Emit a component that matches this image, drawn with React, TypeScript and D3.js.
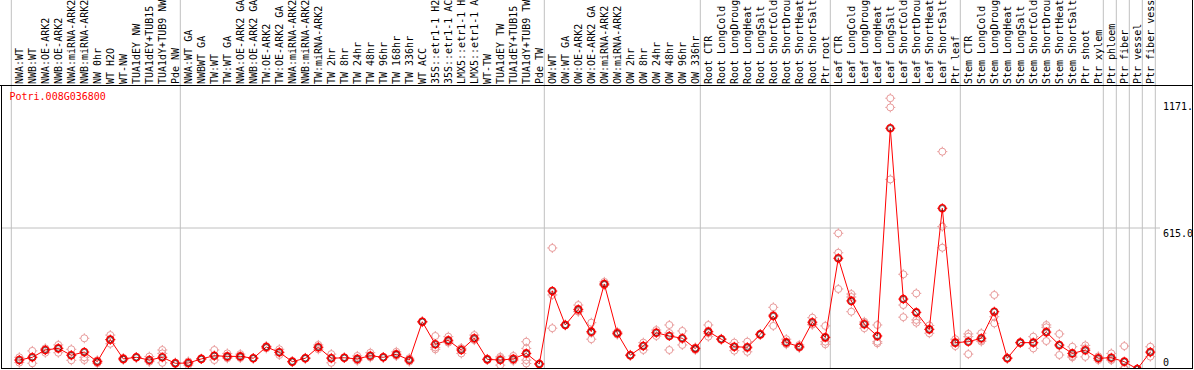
import React from 'react';
import * as d3 from 'd3';

const geneId = 'Potri.008G036800';

const samples = [
  'NWA:WT', 'NWB:WT', 'NWA:OE-ARK2', 'NWB:OE-ARK2', 'NWA:miRNA-ARK2', 'NWB:miRNA-ARK2', 'NW 0hr', 'WT H2O', 'WT-NW',
  'TUA1dEY NW', 'TUA1dEY+TUB15 NW', 'TUA1dY+TUB9 NW', 'Pde NW',
  'NWA:WT GA', 'NWBWT GA', 'TW:WT', 'TW:WT GA', 'NWA:OE-ARK2 GA', 'NWB:OE-ARK2 GA', 'TW:OE-ARK2', 'TW:OE-ARK2 GA',
  'NWA:miRNA-ARK2', 'NWB:miRNA-ARK2', 'TW:miRNA-ARK2', 'TW 2hr', 'TW 8hr', 'TW 24hr', 'TW 48hr', 'TW 96hr', 'TW 168hr',
  'TW 336hr', 'WT ACC', '35S::etr1-1 H2O', '35S::etr1-1 ACC', 'LMX5::etr1-1 H2O', 'LMX5::etr1-1 ACC', 'WT-TW',
  'TUA1dEY TW', 'TUA1dEY+TUB15 TW', 'TUA1dY+TUB9 TW', 'Pde TW',
  'OW:WT', 'OW:WT GA', 'OW:OE-ARK2', 'OW:OE-ARK2 GA', 'OW:miRNA-ARK2', 'OW:miRNA-ARK2 GA', 'OW 2hr', 'OW 8hr',
  'OW 24hr', 'OW 48hr', 'OW 96hr', 'OW 336hr',
  'Root CTR', 'Root LongCold', 'Root LongDrought', 'Root LongHeat', 'Root LongSalt', 'Root ShortCold',
  'Root ShortDrought', 'Root ShortHeat', 'Root ShortSalt', 'Ptr root',
  'Leaf CTR', 'Leaf LongCold', 'Leaf LongDrought', 'Leaf LongHeat', 'Leaf LongSalt', 'Leaf ShortCold',
  'Leaf ShortDrought', 'Leaf ShortHeat', 'Leaf ShortSalt', 'Ptr leaf',
  'Stem CTR', 'Stem LongCold', 'Stem LongDrought', 'Stem LongHeat', 'Stem LongSalt', 'Stem ShortCold',
  'Stem ShortDrought', 'Stem ShortHeat', 'Stem ShortSalt', 'Ptr shoot', 'Ptr xylem',
  'Ptr phloem', 'Ptr fiber', 'Ptr vessel', 'Ptr fiber vessel',
];

const groupStarts = [0, 13, 41, 53, 63, 73, 84, 85, 86, 87, 88];

const means = [
  39, 51, 83, 90, 60, 74, 32, 128, 44, 51, 39, 51, 25,
  26, 44, 58, 55, 55, 47, 96, 73, 32, 47, 95, 47, 49, 44, 58, 51, 64, 39, 206, 108, 125, 83, 134, 42, 39, 44, 68, 22,
  340, 192, 260, 163, 371, 156, 60, 100, 158, 144, 134, 89,
  163, 130, 97, 95, 151, 231, 116, 97, 204, 138,
  483, 297, 195, 144, 1050, 305, 247, 173, 701, 115,
  119, 134, 250, 47, 115, 115, 161, 105, 68, 82, 47,
  49, 32, 0, 74,
];

const replicates = [
  [51, 28, 39], [79, 25, 51], [90, 71, 83], [105, 71, 90], [86, 38, 60], [134, 39, 51], [32, 25, 38], [148, 128, 110],
  [44, 40, 48], [51, 50, 52], [54, 32, 32], [83, 68, 27], [25, 22, 28],
  [17, 28, 33], [44, 44, 44], [83, 39, 57], [68, 47, 50], [65, 48, 52], [47, 47, 47], [100, 90, 98], [86, 61, 72],
  [32, 30, 34], [47, 45, 49], [105, 86, 94], [65, 27, 49], [49, 48, 50], [57, 39, 36], [71, 51, 52], [51, 50, 52],
  [75, 57, 60], [47, 32, 38], [206, 204, 208], [144, 86, 94], [141, 119, 115], [90, 68, 91], [148, 126, 128],
  [42, 40, 44], [47, 17, 53], [57, 39, 36], [119, 90, 39, 24], [22, 20, 24],
  [323, 178, 528], [192, 190, 194], [279, 250, 252], [202, 130, 158], [380, 365, 368], [156, 150, 162],
  [60, 58, 62], [115, 83, 102], [170, 144, 160], [192, 83, 157], [166, 105, 131], [90, 83, 94],
  [192, 156, 141], [130, 128, 132], [115, 80, 96], [119, 75, 91], [151, 149, 153], [269, 188, 236],
  [130, 108, 110], [105, 93, 93], [224, 195, 193], [188, 119, 108],
  [592, 507, 349], [327, 250, 314], [206, 178, 201], [192, 119, 112], [1181, 1141, 827], [413, 279, 226],
  [330, 214, 202], [190, 156, 173], [948, 621, 529], [100, 115, 130],
  [153, 141, 65], [156, 126, 120], [323, 199, 228], [47, 45, 49], [115, 113, 117], [141, 90, 114],
  [192, 182, 122], [153, 61, 101], [97, 51, 56], [103, 90, 53], [39, 47, 55],
  [68, 39, 40], [100, 4, 0], [0, 0, 0], [97, 54, 71],
];

const yTicks = [0, 615, 1171];
const yTickLabels = ['0', '615.0', '1171.0'];

const W = 1194;
const H = 370;
const FONT = '"DejaVu Sans Mono", monospace';

function Marker({ cx, cy, color, sw }: { cx: number; cy: number; color: string; sw: number }) {
  const d = `M${cx - 5},${cy}h1.6M${cx + 3.4},${cy}h1.6M${cx},${cy - 5}v1.6M${cx},${cy + 3.4}v1.6`;
  return (
    <g>
      <circle cx={cx} cy={cy} r={3.5} fill="none" stroke={color} strokeWidth={sw} />
      <path d={d} stroke={color} strokeWidth={1} />
    </g>
  );
}

export default function App() {
  const x = d3.scaleLinear().domain([0, samples.length - 1]).range([19.3, 19.3 + 13 * (samples.length - 1)]);
  const y = d3.scaleLinear().domain([0, 615]).range([369, 228]);
  const line = d3
    .line<number>()
    .x((_, i) => x(i))
    .y((d) => y(d));

  const boundaries = groupStarts.map((g) => x(g) - 8);

  return (
    <svg
      width={W}
      height={H}
      style={{ position: 'absolute', left: 0, top: 0, display: 'block', background: '#fff' }}
    >
      <defs>
        <clipPath id="plotClip">
          <rect x={1} y={86} width={1191} height={283} />
        </clipPath>
      </defs>
      <rect x={0} y={0} width={W} height={H} fill="#fff" />
      {boundaries.map((bx, i) => (
        <line key={'b' + i} x1={bx} x2={bx} y1={0} y2={368} stroke="#c0c0c0" strokeWidth={1} />
      ))}
      <line x1={1} x2={1160} y1={y(615)} y2={y(615)} stroke="#c0c0c0" strokeWidth={1} />
      {samples.map((s, i) => (
        <text
          key={'l' + i}
          transform={`translate(${x(i) + 4},84) rotate(-90)`}
          fontFamily={FONT}
          fontSize={10}
          fill="#000"
        >
          {s}
        </text>
      ))}
      <g clipPath="url(#plotClip)">
        {yTicks.map((t, i) => (
          <text
            key={'yt' + i}
            x={1163}
            y={Math.min(y(t) + 9, 366)}
            fontFamily={FONT}
            fontSize={10}
            fill="#000"
          >
            {yTickLabels[i]}
          </text>
        ))}
        <text x={9.5} y={100} fontFamily={FONT} fontSize={10} fill="#ff0000">
          {geneId}
        </text>
        {replicates.map((reps, i) =>
          reps.map((r, j) => <Marker key={'r' + i + '_' + j} cx={x(i)} cy={y(r)} color="#e89a9a" sw={1} />)
        )}
        <path d={line(means) || ''} fill="none" stroke="#ff0000" strokeWidth={1} />
        {means.map((m, i) => (
          <g key={'m' + i}>
            <Marker cx={x(i)} cy={y(m)} color="#ff0000" sw={1.6} />
            <circle cx={x(i)} cy={y(m)} r={2.6} fill="none" stroke="#000" strokeWidth={0.5} />
          </g>
        ))}
      </g>
      <line x1={0} x2={1193} y1={85.5} y2={85.5} stroke="#000" strokeWidth={1} />
      <line x1={1.5} x2={1.5} y1={85} y2={369} stroke="#000" strokeWidth={1} />
      <line x1={1192.5} x2={1192.5} y1={0} y2={369} stroke="#000" strokeWidth={1} />
      <line x1={1} x2={1193} y1={368.5} y2={368.5} stroke="#000" strokeWidth={1} />
    </svg>
  );
}
